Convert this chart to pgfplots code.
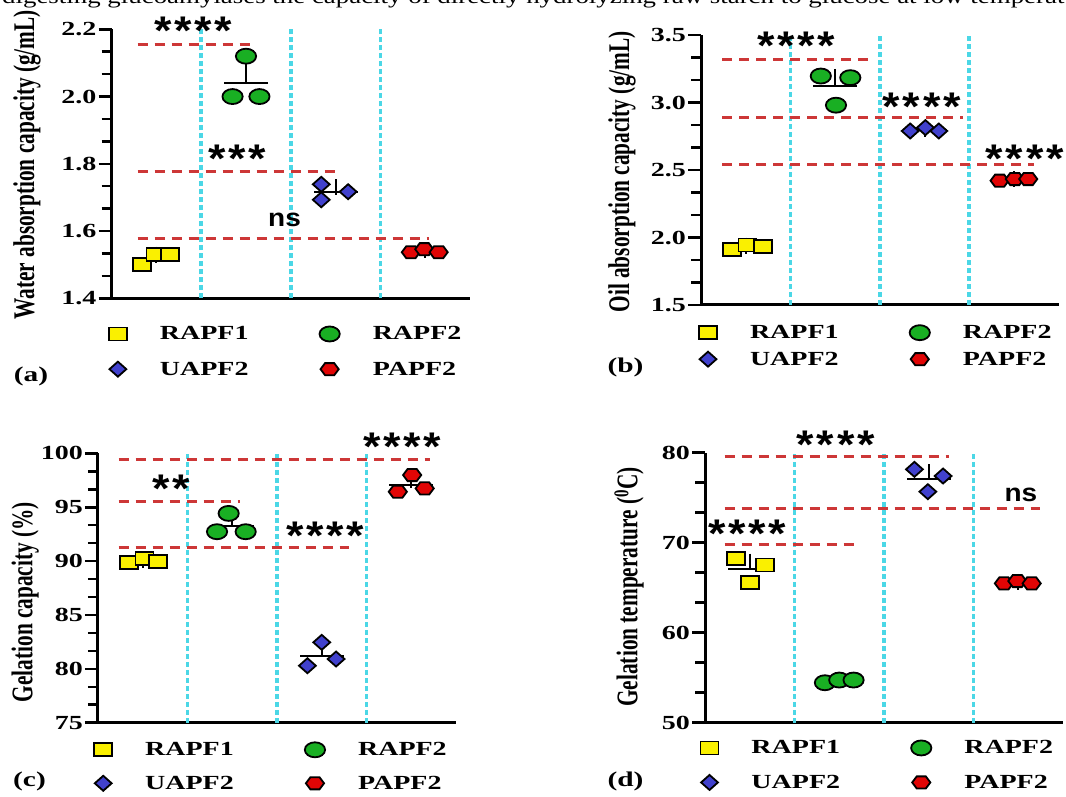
\documentclass[border=0pt]{standalone}
\usepackage{fontspec}
\setmainfont{Liberation Serif}
\newfontface\tbf[FakeStretch=1.4]{Liberation Serif Bold}
\newfontface\ylf[FakeStretch=0.71]{Liberation Serif Bold}
\newfontface\sfb[FakeStretch=1.12]{Liberation Sans Bold}
\newfontface\trf[FakeStretch=1.28]{Liberation Serif}
\usepackage{pgfplots}
\pgfplotsset{compat=1.18}

\definecolor{cyn}{RGB}{75,215,230}
\definecolor{rdl}{RGB}{205,55,55}
\definecolor{yel}{RGB}{250,240,0}
\definecolor{grn}{RGB}{25,175,35}
\definecolor{blu}{RGB}{65,65,205}
\definecolor{hred}{RGB}{225,5,5}

% flat hexagon for PAPF2
\pgfdeclareplotmark{hex*}{%
  \pgfpathmoveto{\pgfqpoint{-\pgfplotmarksize}{0pt}}%
  \pgfpathlineto{\pgfqpoint{-0.5\pgfplotmarksize}{0.866\pgfplotmarksize}}%
  \pgfpathlineto{\pgfqpoint{0.5\pgfplotmarksize}{0.866\pgfplotmarksize}}%
  \pgfpathlineto{\pgfqpoint{\pgfplotmarksize}{0pt}}%
  \pgfpathlineto{\pgfqpoint{0.5\pgfplotmarksize}{-0.866\pgfplotmarksize}}%
  \pgfpathlineto{\pgfqpoint{-0.5\pgfplotmarksize}{-0.866\pgfplotmarksize}}%
  \pgfpathclose\pgfusepathqfillstroke}

\newcommand{\four}{*\kern2.8pt*\kern2.8pt*\kern2.8pt*}
\newcommand{\three}{*\kern2.8pt*\kern2.8pt*}
\newcommand{\two}{*\kern2.8pt*}

\tikzset{
  ast/.style={font=\sfb\fontsize{40}{40}\selectfont, anchor=base, yshift=-19pt, inner sep=0pt},
  ns/.style={font=\sfb\fontsize{25}{25}\selectfont, anchor=center, inner sep=0pt},
  plab/.style={font=\tbf\fontsize{21}{24}\selectfont, inner sep=0pt},
}

\pgfplotsset{
  pnl/.style={
    scale only axis, clip=false, anchor=south west,
    xmin=0, xmax=4, xtick=\empty,
    axis x line=bottom, axis y line=left,
    axis line style={line width=3pt, -},
    tick align=outside, major tick length=13pt, minor tick length=10pt,
    minor y tick num=2,
    tick style={line width=2.5pt, black},
    /pgf/number format/assume math mode=true,
    yticklabel style={font=\tbf\fontsize{20}{24}\selectfont, inner sep=2pt},
    ylabel style={font=\ylf\fontsize{30}{32}\selectfont, anchor=center},
    legend columns=2, legend cell align=left,
    legend style={draw=none, fill=none, inner sep=0pt, anchor=north west,
      font=\tbf\fontsize{20}{24}\selectfont, nodes={inner sep=0pt},
      /tikz/every odd column/.append style={column sep=33pt},
      /tikz/every even column/.append style={column sep=71pt}},
  },
  vl/.style={cyn, line width=3.5pt, dash pattern=on 5pt off 3pt, forget plot},
  hl/.style={rdl, line width=3pt, dash pattern=on 10pt off 7pt, forget plot},
  mn/.style={black, only marks, mark=-, mark size=22pt, mark options={line width=2pt}, forget plot,
    error bars/.cd, y dir=plus, y explicit, error bar style={line width=2pt},
    error mark options={mark size=8pt, line width=2pt}},
  dot/.style={only marks, legend image code/.code={\draw[##1] plot coordinates {(0pt,0pt)};}},
  s1/.style={dot, mark=square*, mark size=6.5pt, mark options={draw=black, line width=1.8pt, solid, fill=yel, xscale=1.38}},
  s2/.style={dot, mark=*, mark size=7.5pt, mark options={draw=black, line width=1.8pt, solid, fill=grn, xscale=1.35}},
  s3/.style={dot, mark=diamond*, mark size=7.5pt, mark options={draw=black, line width=1.8pt, solid, fill=blu, xscale=1.5}},
  s4/.style={dot, mark=hex*, mark size=7pt, mark options={draw=black, line width=1.8pt, solid, fill=hred, xscale=1.3}},
}

\begin{document}
\begin{tikzpicture}
\path[use as bounding box, clip] (0,0) rectangle (1066pt,796pt);

\node[anchor=base west, inner sep=0pt, font=\trf\fontsize{21}{24}\selectfont] at (2pt,792.5pt)
  {digesting glucoamylases the capacity of directly hydrolyzing raw starch to glucose at low temperature};

% (a) water absorption
\begin{axis}[pnl, at={(111.6pt,497.7pt)}, width=358.4pt, height=269pt,
  ymin=1.4, ymax=2.2, ytick={1.4,1.6,1.8,2.0,2.2},
  yticklabel style={/pgf/number format/.cd, fixed, fixed zerofill, precision=1},
  ylabel={Water absorption capacity (g/mL)},
  ylabel style={at={(axis description cs:-0.236,0.496)}},
  legend style={at={(axis description cs:-0.008,-0.104)}, row sep=20.2pt}]
\addplot[vl] coordinates {(1,1.4) (1,2.2)};
\addplot[vl] coordinates {(2,1.4) (2,2.2)};
\addplot[vl] coordinates {(3,1.4) (3,2.2)};
\addplot[hl] coordinates {(0.29,2.156) (1.57,2.156)};
\addplot[hl] coordinates {(0.29,1.776) (2.56,1.776)};
\addplot[hl] coordinates {(0.29,1.579) (3.54,1.579)};
\addplot[mn] coordinates {(0.5,1.52) +- (0,0.01) (1.5,2.04) +- (0,0.04) (2.5,1.716) +- (0,0.014) (3.5,1.54) +- (0,0.003)};
\addplot[s1] coordinates {(0.34,1.50) (0.49,1.53) (0.65,1.53)};
\addlegendentry{RAPF1}
\addplot[s2] coordinates {(1.35,2.00) (1.50,2.12) (1.65,2.00)};
\addlegendentry{RAPF2}
\addplot[s3] coordinates {(2.34,1.739) (2.34,1.693) (2.64,1.717)};
\addlegendentry{UAPF2}
\addplot[s4] coordinates {(3.34,1.537) (3.49,1.546) (3.65,1.537)};
\addlegendentry{PAPF2}
\node[ast] at (axis cs:0.91,2.212) {\four};
\node[ast] at (axis cs:1.40,1.831) {\three};
\node[ns] at (axis cs:1.93,1.633) {ns};
\end{axis}

% (b) oil absorption
\begin{axis}[pnl, at={(701pt,491pt)}, width=357.6pt, height=270pt,
  ymin=1.5, ymax=3.5, ytick={1.5,2.0,2.5,3.0,3.5},
  yticklabel style={/pgf/number format/.cd, fixed, fixed zerofill, precision=1},
  ylabel={Oil absorption capacity (g/mL)},
  ylabel style={at={(axis description cs:-0.221,0.493)}},
  legend style={at={(axis description cs:-0.006,-0.074)}, row sep=11.5pt}]
\addplot[vl] coordinates {(1,1.5) (1,3.5)};
\addplot[vl] coordinates {(2,1.5) (2,3.5)};
\addplot[vl] coordinates {(3,1.5) (3,3.5)};
\addplot[hl] coordinates {(0.24,3.32) (1.94,3.32)};
\addplot[hl] coordinates {(0.24,2.888) (2.93,2.888)};
\addplot[hl] coordinates {(0.24,2.542) (3.72,2.542)};
\addplot[mn] coordinates {(0.5,1.93) +- (0,0.01) (1.5,3.12) +- (0,0.07) (2.5,2.797) +- (0,0.008) (3.5,2.429) +- (0,0.004)};
\addplot[s1] coordinates {(0.35,1.91) (0.52,1.945) (0.69,1.935)};
\addlegendentry{RAPF1}
\addplot[s2] coordinates {(1.34,3.196) (1.51,2.98) (1.67,3.184)};
\addlegendentry{RAPF2}
\addplot[s3] coordinates {(2.34,2.789) (2.51,2.814) (2.66,2.789)};
\addlegendentry{UAPF2}
\addplot[s4] coordinates {(3.34,2.421) (3.51,2.433) (3.66,2.433)};
\addlegendentry{PAPF2}
\node[ast] at (axis cs:1.065,3.458) {\four};
\node[ast] at (axis cs:2.47,3.006) {\four};
\node[ast] at (axis cs:3.62,2.624) {\four};
\end{axis}

% (c) gelation capacity
\begin{axis}[pnl, at={(98pt,73.3pt)}, width=358pt, height=269.3pt,
  ymin=75, ymax=100, ytick={75,80,85,90,95,100},
  ylabel={Gelation capacity (\%)},
  ylabel style={at={(axis description cs:-0.203,0.448)}},
  legend style={at={(axis description cs:-0.011,-0.072)}, row sep=18.5pt}]
\addplot[vl] coordinates {(1,75) (1,100)};
\addplot[vl] coordinates {(2,75) (2,100)};
\addplot[vl] coordinates {(3,75) (3,100)};
\addplot[hl] coordinates {(0.23,99.47) (3.71,99.47)};
\addplot[hl] coordinates {(0.23,95.51) (1.59,95.51)};
\addplot[hl] coordinates {(0.23,91.27) (2.80,91.27)};
\addplot[mn] coordinates {(0.5,90.05) +- (0,0.1) (1.5,93.3) +- (0,0.57) (2.5,81.22) +- (0,0.64) (3.5,97.06) +- (0,0.47)};
\addplot[s1] coordinates {(0.35,89.9) (0.52,90.25) (0.67,90.0)};
\addlegendentry{RAPF1}
\addplot[s2] coordinates {(1.33,92.73) (1.46,94.43) (1.65,92.73)};
\addlegendentry{RAPF2}
\addplot[s3] coordinates {(2.34,80.29) (2.50,82.46) (2.66,80.91)};
\addlegendentry{UAPF2}
\addplot[s4] coordinates {(3.35,96.44) (3.51,97.99) (3.65,96.75)};
\addlegendentry{PAPF2}
\node[ast] at (axis cs:0.82,97.22) {\two};
\node[ast] at (axis cs:2.54,92.88) {\four};
\node[ast] at (axis cs:3.40,101.08) {\four};
\end{axis}

% (d) gelation temperature
\begin{axis}[pnl, at={(705pt,73.3pt)}, width=358pt, height=270pt,
  ymin=50, ymax=80, ytick={50,60,70,80},
  ylabel={Gelation temperature (\textsuperscript{0}C)},
  ylabel style={at={(axis description cs:-0.212,0.503)}},
  legend style={at={(axis description cs:-0.013,-0.065)}, row sep=19.5pt}]
\addplot[vl] coordinates {(1,50) (1,80)};
\addplot[vl] coordinates {(2,50) (2,80)};
\addplot[vl] coordinates {(3,50) (3,80)};
\addplot[hl] coordinates {(0.22,79.56) (2.73,79.56)};
\addplot[hl] coordinates {(0.22,73.82) (3.74,73.82)};
\addplot[hl] coordinates {(0.22,69.75) (1.70,69.75)};
\addplot[mn] coordinates {(0.5,67.11) +- (0,0.8) (1.5,54.64) +- (0,0.1) (2.5,77.08) +- (0,0.73) (3.5,65.57) +- (0,0.09)};
\addplot[s1] coordinates {(0.35,68.26) (0.50,65.56) (0.67,67.52)};
\addlegendentry{RAPF1}
\addplot[s2] coordinates {(1.34,54.44) (1.50,54.74) (1.66,54.74)};
\addlegendentry{RAPF2}
\addplot[s3] coordinates {(2.34,78.15) (2.49,75.67) (2.66,77.41)};
\addlegendentry{UAPF2}
\addplot[s4] coordinates {(3.34,65.48) (3.49,65.74) (3.65,65.48)};
\addlegendentry{PAPF2}
\node[ast] at (axis cs:1.46,81.48) {\four};
\node[ast] at (axis cs:0.47,71.6) {\four};
\node[ns] at (axis cs:3.53,75.3) {ns};
\end{axis}

\node[plab] at (31pt,420pt) {(a)};
\node[plab] at (625.5pt,428.5pt) {(b)};
\node[plab] at (29.5pt,14.5pt) {(c)};
\node[plab] at (625.5pt,15pt) {(d)};
\end{tikzpicture}
\end{document}
